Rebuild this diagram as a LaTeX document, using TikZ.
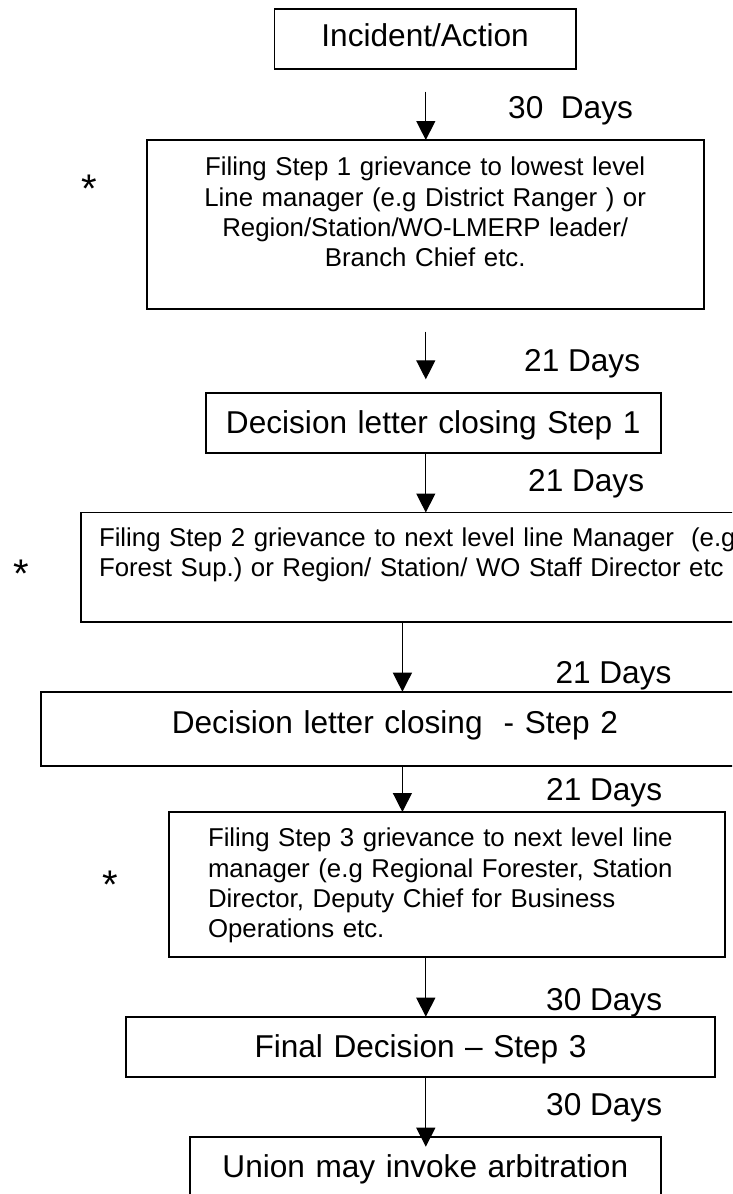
\documentclass[tikz,border=0pt]{standalone}
\usepackage{fontspec}
\setmainfont{Liberation Sans}
\usetikzlibrary{arrows.meta}
\frenchspacing

\tikzset{
  stepbox/.style={draw=black, line width=1.8pt, inner sep=0pt, outer sep=0pt, anchor=north west},
  bigtxt/.style={font=\fontsize{31.6pt}{36.3pt}\selectfont},
  smalltxt/.style={font=\fontsize{25.8pt}{30.3pt}\selectfont},
  flow/.style={line width=1.3pt, -{Triangle[length=19pt,width=19pt]}},
  days/.style={bigtxt, anchor=base west, inner sep=0pt},
  star/.style={font=\fontsize{40pt}{44pt}\selectfont, anchor=base, inner sep=0pt}
}

\begin{document}
\begin{tikzpicture}[x=1pt, y=-1pt]
  \useasboundingbox (0,0) rectangle (732,1194);
  \clip (0,0) rectangle (732,1194);

  % columns of the connectors
  \coordinate (colA) at (425.8,0);
  \coordinate (colB) at (402.4,0);

  % boxes of the procedure
  \node[stepbox, bigtxt, align=center, text width=301.2pt,
        text height=37.7pt, text depth=22.6pt] (b1) at (274.5,9) {Incident/Action};

  \node[stepbox, smalltxt, align=center, text width=557pt,
        text height=35.7pt, text depth=133.6pt] (b2) at (146.7,140)
    {Filing Step 1 grievance to lowest level\\
     Line manager (e.g District Ranger ) or\\
     Region/Station/WO-LMERP leader/\\
     Branch Chief etc.};

  \node[stepbox, bigtxt, align=center, text width=454.7pt,
        text height=40.6pt, text depth=20pt] (b3) at (205.9,392.7)
    {Decision letter closing Step 1};

  \node[stepbox, smalltxt, align=left, inner xsep=18pt, text width=680pt,
        text height=33.5pt, text depth=75.7pt] (b4) at (81,512.5)
    {Filing Step 2 grievance to next level line Manager\ \ (e.g\\
     Forest Sup.) or Region/ Station/ WO Staff Director etc};

  \node[stepbox, bigtxt, align=center, text width=707.8pt,
        text height=41.6pt, text depth=32.4pt] (b5) at (41,691.7)
    {Decision letter closing\ \ - Step 2};

  \node[stepbox, smalltxt, align=left, inner xsep=39pt, text width=477.7pt,
        text height=34.7pt, text depth=110.6pt] (b6) at (169,812)
    {Filing Step 3 grievance to next level line\\
     manager (e.g Regional Forester, Station\\
     Director, Deputy Chief for Business\\
     Operations etc.};

  \node[stepbox, bigtxt, align=center, text width=589.6pt,
        text height=40.8pt, text depth=19.8pt] (b7) at (125.7,1016.7)
    {Final Decision – Step 3};

  \node[stepbox, bigtxt, align=center, text width=470.7pt,
        text height=40pt, text depth=40pt] (b8) at (190,1137.3)
    {Union may invoke arbitration};

  % time limits
  \node[days] (d1) at (508,118.3) {30\ \ Days};
  \node[days] (d2) at (524,371.7) {21 Days};
  \node[days] (d3) at (528,491.7) {21 Days};
  \node[days] (d4) at (555.3,683.3) {21 Days};
  \node[days] (d5) at (546,800) {21 Days};
  \node[days] (d6) at (546,1010.7) {30 Days};
  \node[days] (d7) at (546,1115) {30 Days};

  % steps that are grievance filings
  \node[star] (s1) at (89.3,202.5) {*};
  \node[star] (s2) at (21,587.5) {*};
  \node[star] (s3) at (110.7,898.5) {*};

  % connectors
  \draw[flow, shorten <=22.4pt] (b1.south -| colA) -- (b2.north -| colA);
  \draw[flow, shorten <=22.4pt, shorten >=13.4pt] (b2.south -| colA) -- (b3.north -| colA);
  \draw[flow] (b3.south -| colA) -- (b4.north -| colA);
  \draw[flow] (b4.south -| colB) -- (b5.north -| colB);
  \draw[flow] (b5.south -| colB) -- (b6.north -| colB);
  \draw[flow] (b6.south -| colA) -- (b7.north -| colA);
  \draw[flow, shorten >=-9.4pt] (b7.south -| colA) -- (b8.north -| colA);
\end{tikzpicture}
\end{document}
